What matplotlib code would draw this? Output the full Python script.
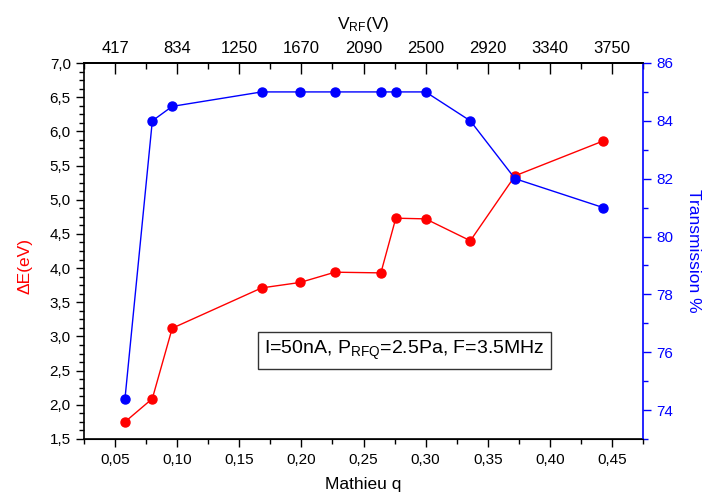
import matplotlib
matplotlib.use("Agg")
import matplotlib.pyplot as plt
from matplotlib.ticker import MultipleLocator, FuncFormatter, FixedLocator

plt.rcParams["font.family"] = ["Liberation Sans", "DejaVu Sans"]
plt.rcParams["mathtext.fontset"] = "custom"
plt.rcParams["mathtext.rm"] = "Liberation Sans"
plt.rcParams["mathtext.it"] = "Liberation Sans"

# Mathieu q for each measurement
mathieu_q = [0.058, 0.080, 0.096, 0.168, 0.199, 0.227, 0.264, 0.276, 0.300, 0.336, 0.372, 0.443]
# energy spread (eV), left axis, red
delta_e = [1.75, 2.09, 3.12, 3.71, 3.79, 3.94, 3.93, 4.73, 4.72, 4.40, 5.35, 5.86]
# transmission (%), right axis, blue
transmission = [74.4, 84.0, 84.5, 85.0, 85.0, 85.0, 85.0, 85.0, 85.0, 84.0, 82.0, 81.0]

# top axis: V_RF labels at the bottom major ticks
top_tick_q = [0.05, 0.10, 0.15, 0.20, 0.25, 0.30, 0.35, 0.40, 0.45]
top_tick_labels = ["417", "834", "1250", "1670", "2090", "2500", "2920", "3340", "3750"]

RED, BLUE = "#ff0000", "#0000ff"


def comma(fmt):
    return FuncFormatter(lambda v, pos: (fmt % v).replace(".", ","))


fig = plt.figure(figsize=(7.02, 4.97), dpi=100)
ax = fig.add_axes([84 / 702, 1 - 439 / 497, (643 - 84) / 702, (439 - 63) / 497])
ax2 = ax.twinx()

ax.plot(mathieu_q, delta_e, color=RED, lw=1.0, marker="o", ms=6.5, mec=RED, mfc=RED)
ax2.plot(mathieu_q, transmission, color=BLUE, lw=1.0, marker="o", ms=6.5, mec=BLUE, mfc=BLUE)

ax.set_xlim(0.025, 0.475)
ax.set_ylim(1.5, 7.0)
ax2.set_ylim(73, 86)

ax.xaxis.set_major_locator(MultipleLocator(0.05))
ax.xaxis.set_minor_locator(MultipleLocator(0.025))
ax.xaxis.set_major_formatter(comma("%.2f"))
ax.yaxis.set_major_locator(MultipleLocator(0.5))
ax.yaxis.set_minor_locator(MultipleLocator(0.125))
ax.yaxis.set_major_formatter(comma("%.1f"))
ax2.yaxis.set_major_locator(MultipleLocator(2))
ax2.yaxis.set_minor_locator(MultipleLocator(1))

ax.tick_params(axis="both", which="major", direction="out", length=6, width=1, labelsize=11)
ax.tick_params(axis="both", which="minor", direction="out", length=3.5, width=1)
ax.tick_params(axis="x", pad=4)
ax2.tick_params(axis="y", which="major", direction="out", length=6, width=1,
                colors=BLUE, labelsize=11)
ax2.tick_params(axis="y", which="minor", direction="out", length=3.5, width=1, colors=BLUE)
ax2.spines["right"].set_color(BLUE)
ax2.spines["left"].set_visible(False)
ax.spines["right"].set_visible(False)
for s in ["left", "bottom", "top"]:
    ax.spines[s].set_linewidth(1.2)
ax2.spines["right"].set_linewidth(1.2)
ax2.spines["top"].set_linewidth(1.2)

top = ax.secondary_xaxis("top")
top.xaxis.set_major_locator(FixedLocator(top_tick_q))
top.xaxis.set_minor_locator(MultipleLocator(0.025))
top.set_xticklabels(top_tick_labels)
top.tick_params(which="major", direction="in", length=8, width=1, labelsize=12, pad=5)
top.tick_params(which="minor", direction="in", length=4, width=1)
top.spines["top"].set_linewidth(1.2)
top.set_xlabel("V$_{\\rm RF}$(V)", fontsize=12.5, labelpad=9)

ax.set_xlabel("Mathieu q", fontsize=12.5, labelpad=7)
ax.set_ylabel("ΔE(eV)", fontsize=12.5, color=RED)
ax.yaxis.set_label_coords(-0.093, 0.46)
ax2.set_ylabel("Transmission %", fontsize=12.5, color=BLUE, rotation=270, labelpad=20)

ax.text(0.283, 2.80, "I=50nA, P$_{\\rm RFQ}$=2.5Pa, F=3.5MHz", fontsize=14,
        ha="center", va="center",
        bbox=dict(boxstyle="square,pad=0.35", fc="white", ec="#333333", lw=1))

fig.savefig("out.png", dpi=100)
